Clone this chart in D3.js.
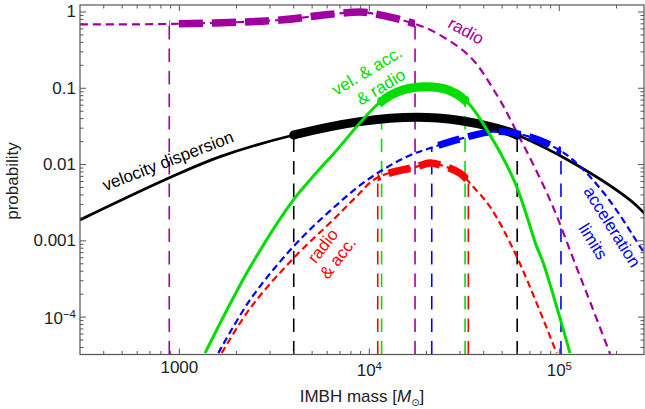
<!DOCTYPE html>
<html><head><meta charset="utf-8">
<script src="https://cdn.jsdelivr.net/npm/d3@7"></script>
<style>
body{margin:0;background:#fff}
svg{display:block}
text{font-family:"Liberation Sans",Arial,Helvetica,sans-serif}
</style>
</head><body>
<svg id="chart" width="645" height="409"></svg>
<script>
// ---------- data ----------
const xTickValues = [1000, 1e4, 1e5];
const xTickBase = ["1000", "10", "10"];
const xTickExp = ["", "4", "5"];
const yTickValues = [1, 0.1, 0.01, 0.001, 1e-4];
const yTickBase = ["1", "0.1", "0.01", "0.001", "10"];
const yTickExp = ["", "", "", "", "\u22124"];

// velocity dispersion (black)
const velMass = [300, 875, 1640, 4000, 8900, 17800, 30000, 47000, 60000, 119000, 235000, 290000];
const velProb = [0.00188, 0.0066, 0.0127, 0.0244, 0.0365, 0.0417, 0.0378, 0.0299, 0.0244, 0.0104, 0.00344, 0.0021];
const velRange = [4000, 60000];

// radio (magenta)
const radioMass = [300, 885, 3390, 5730, 8930, 9840, 17060, 22650, 33900, 46900, 59700, 89300, 123600, 145200, 185000];
const radioProb = [0.69, 0.697, 0.785, 0.914, 1.0, 0.98, 0.711, 0.526, 0.259, 0.0817, 0.0267, 0.00344, 4.4e-4, 1.58e-4, 3.3e-5];
const radioRange = [885, 17400];

// radio & acc. (red)
const raMass = [1670, 2355, 3981, 6470, 8410, 10940, 17740, 20840, 23550, 30000, 35200, 43150, 59700, 96800];
const raProb = [3.37e-5, 1.3e-4, 5.9e-4, 0.0019, 0.00365, 0.00667, 0.00938, 0.0105, 0.00989, 0.00769, 0.00513, 0.0028, 6.2e-4, 3.37e-5];
const raRange = [11070, 33200];

// acceleration limits (blue)
const accMass = [1603, 2355, 3981, 6210, 9750, 15740, 20840, 30000, 44870, 64600, 89300, 118000, 177400, 266000, 295000];
const accProb = [3.37e-5, 1.68e-4, 8.4e-4, 0.00247, 0.00628, 0.0127, 0.0164, 0.0217, 0.027, 0.0244, 0.0181, 0.0115, 0.0038, 8.4e-4, 5.5e-4];
const accRange = [21300, 102000];

// vel. & acc. & radio (green)
const allMass = [1365, 2355, 3981, 4875, 6470, 11480, 15000, 20050, 26000, 32600, 43150, 58500, 76000, 82400, 113800];
const allProb = [3.37e-5, 4.5e-4, 0.00344, 0.0063, 0.0138, 0.0667, 0.095, 0.105, 0.095, 0.0667, 0.0245, 0.00575, 8.4e-4, 5.08e-4, 3.37e-5];
const allRange = [11600, 31900];

// ---------- layout ----------
const svg = d3.select("#chart");
const L = 80, R = 644, T = 5, B = 354.5;
const x = d3.scaleLog().domain([300, 279000]).range([L, R]);
const y = d3.scaleLog().domain([3.236e-5, 1.235]).range([B, T]);
const frameColor = "#555";
const textColor = "#222";

const defs = svg.append("defs");
defs.append("clipPath").attr("id", "plotClip")
  .append("rect").attr("x", L).attr("y", T).attr("width", R - L).attr("height", B - T);

const line = d3.line().x(d => x(d[0])).y(d => y(d[1])).curve(d3.curveCatmullRom.alpha(0.5));

const plot = svg.append("g").attr("clip-path", "url(#plotClip)");
const vGroup = plot.append("g");
const cGroup = plot.append("g");

function yAt(node, px) {
  const len = node.getTotalLength();
  let lo = 0, hi = len;
  for (let i = 0; i < 40; i++) {
    const mid = (lo + hi) / 2;
    if (node.getPointAtLength(mid).x < px) lo = mid; else hi = mid;
  }
  return node.getPointAtLength((lo + hi) / 2).y;
}

let clipId = 0;
function drawSeries(mass, prob, range, color, o) {
  const data = mass.map((m, i) => [m, prob[i]]);
  const thin = cGroup.append("path").datum(data).attr("d", line)
    .attr("fill", "none").attr("stroke", color).attr("stroke-width", o.thinW)
    .attr("stroke-dasharray", o.thinDash || null);
  const id = "seg" + (clipId++);
  defs.append("clipPath").attr("id", id).append("rect")
    .attr("x", x(range[0])).attr("y", 0)
    .attr("width", x(range[1]) - x(range[0])).attr("height", 409);
  cGroup.append("path").datum(data).attr("d", line)
    .attr("clip-path", "url(#" + id + ")")
    .attr("fill", "none").attr("stroke", color).attr("stroke-width", o.thickW)
    .attr("stroke-dasharray", o.thickDash || null);
  const node = thin.node();
  range.forEach(m => {
    const px = x(m), py = yAt(node, px);
    vGroup.append("line").attr("x1", px).attr("x2", px).attr("y1", B).attr("y2", py)
      .attr("stroke", color).attr("stroke-width", 1.6).attr("stroke-dasharray", "13.5,9");
    if (o.roundEnds) {
      cGroup.append("circle").attr("cx", px).attr("cy", py).attr("r", o.thickW / 2).attr("fill", color);
    }
  });
}

const MAG = "#a000a0", GRN = "#00dd00", RED = "#ff0000", BLU = "#0000ff";
drawSeries(radioMass, radioProb, radioRange, MAG, {thinW: 2.2, thinDash: "8,5", thickW: 7.5, thickDash: "24,9"});
drawSeries(raMass, raProb, raRange, RED, {thinW: 2.2, thinDash: "7,4", thickW: 7.5, thickDash: "22,9"});
drawSeries(velMass, velProb, velRange, "#000", {thinW: 2.8, thickW: 9, roundEnds: true});
drawSeries(accMass, accProb, accRange, BLU, {thinW: 2.2, thinDash: "7,4", thickW: 7, thickDash: "22,9"});
drawSeries(allMass, allProb, allRange, GRN, {thinW: 3, thickW: 9, roundEnds: true});

// ---------- frame and ticks ----------
svg.append("rect").attr("x", L).attr("y", T).attr("width", R - L).attr("height", B - T)
  .attr("fill", "none").attr("stroke", frameColor).attr("stroke-width", 1.2);

const ticksG = svg.append("g").attr("stroke", frameColor).attr("stroke-width", 1);
const isMajor = v => Math.abs(Math.log10(v) - Math.round(Math.log10(v))) < 1e-9;
x.ticks().forEach(v => {
  const px = x(v); if (px < L + 0.5 || px > R - 0.5) return;
  const len = isMajor(v) ? 6 : 3.5;
  ticksG.append("line").attr("x1", px).attr("x2", px).attr("y1", B).attr("y2", B - len);
  ticksG.append("line").attr("x1", px).attr("x2", px).attr("y1", T).attr("y2", T + len);
});
y.ticks().forEach(v => {
  const py = y(v); if (py < T + 0.5 || py > B - 0.5) return;
  const len = isMajor(v) ? 6 : 3.5;
  ticksG.append("line").attr("x1", L).attr("x2", L + len).attr("y1", py).attr("y2", py);
  ticksG.append("line").attr("x1", R).attr("x2", R - len).attr("y1", py).attr("y2", py);
});

// tick labels
xTickValues.forEach((v, i) => {
  const t = svg.append("text").attr("x", x(v)).attr("y", xTickExp[i] ? 376 : 372.5)
    .attr("text-anchor", "middle").attr("font-size", 17).attr("fill", textColor);
  t.append("tspan").text(xTickBase[i]);
  if (xTickExp[i]) t.append("tspan").attr("font-size", 11.5).attr("dy", -6.5).text(xTickExp[i]);
});
yTickValues.forEach((v, i) => {
  const t = svg.append("text").attr("x", 76).attr("y", y(v) + (yTickExp[i] ? 6.7 : 5.5))
    .attr("text-anchor", "end").attr("font-size", 17).attr("fill", textColor);
  t.append("tspan").text(yTickBase[i]);
  if (yTickExp[i]) t.append("tspan").attr("font-size", 11.5).attr("dy", -5.5).text(yTickExp[i]);
});

// axis titles
const xt = svg.append("text").attr("x", (L + R) / 2).attr("y", 401.5).attr("text-anchor", "middle")
  .attr("font-size", 17).attr("fill", textColor);
xt.append("tspan").text("IMBH mass [");
xt.append("tspan").attr("font-style", "italic").text("M");
xt.append("tspan").attr("font-size", 10).attr("dy", 4).attr("font-family", "DejaVu Sans").text("\u2299");
xt.append("tspan").attr("dy", -4).text("]");

svg.append("text").attr("transform", "translate(17.5,181) rotate(-90)")
  .attr("text-anchor", "middle").attr("font-size", 17).attr("fill", textColor).text("probability");

// ---------- curve labels ----------
const labels = [
  {t: "velocity dispersion", cx: 168, cy: 161, a: -21, c: "#000"},
  {t: "radio", cx: 466, cy: 31, a: 29, c: MAG},
  {t: "vel. & acc.", cx: 367, cy: 71, a: -31, c: GRN},
  {t: "& radio", cx: 381, cy: 87, a: -31, c: GRN},
  {t: "radio", cx: 323, cy: 246, a: -52, c: RED},
  {t: "& acc.", cx: 338, cy: 258, a: -52, c: RED},
  {t: "acceleration", cx: 612, cy: 227, a: 58, c: BLU},
  {t: "limits", cx: 593, cy: 241.5, a: 58, c: BLU}
];
labels.forEach(d => {
  svg.append("text").attr("transform", `translate(${d.cx},${d.cy}) rotate(${d.a})`)
    .attr("text-anchor", "middle").attr("dy", "0.33em").attr("font-size", 17)
    .attr("fill", d.c).text(d.t);
});
</script>
</body></html>
